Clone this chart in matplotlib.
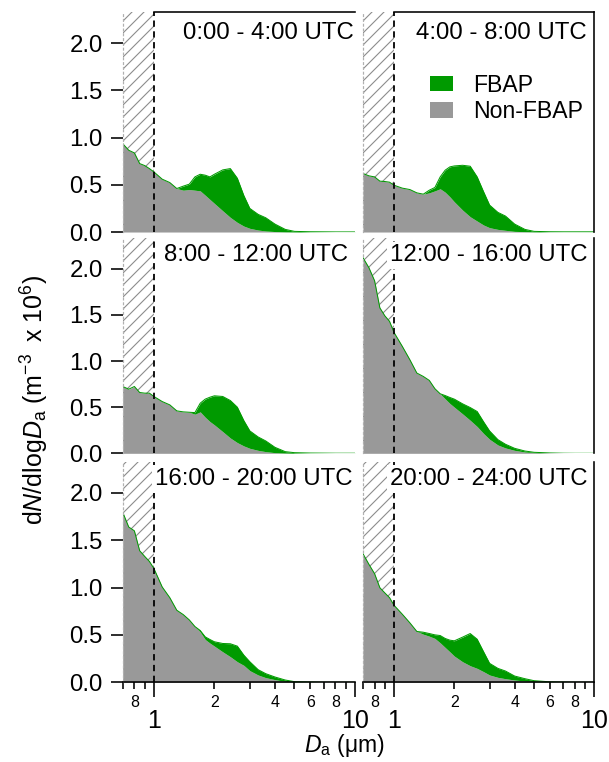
import numpy as np
import matplotlib
matplotlib.use("Agg")
import matplotlib.pyplot as plt
from matplotlib.patches import Patch

plt.rcParams['font.family'] = ['Liberation Sans', 'DejaVu Sans']
plt.rcParams['mathtext.fontset'] = 'custom'
plt.rcParams['mathtext.rm'] = 'Liberation Sans'
plt.rcParams['mathtext.it'] = 'Liberation Sans:italic'
plt.rcParams['hatch.linewidth'] = 0.55

# particle diameter bins (um)
diam = [0.70, 0.75, 0.80, 0.85, 0.90, 0.95, 1.0, 1.1, 1.2, 1.3, 1.4, 1.5, 1.6,
        1.7, 1.8, 1.9, 2.0, 2.2, 2.4, 2.6, 2.8, 3.0, 3.3, 3.6, 4.0, 4.5, 5.0,
        6.0, 7.0, 8.0, 10.0]

periods = ["0:00 - 4:00 UTC", "4:00 - 8:00 UTC", "8:00 - 12:00 UTC",
           "12:00 - 16:00 UTC", "16:00 - 20:00 UTC", "20:00 - 24:00 UTC"]

# dN/dlogDa, 10^6 m^-3
non_fbap = [
    [0.936, 0.866, 0.838, 0.725, 0.704, 0.672, 0.637, 0.560, 0.524, 0.461, 0.443,
     0.450, 0.443, 0.436, 0.390, 0.345, 0.303, 0.225, 0.155, 0.102, 0.063, 0.039,
     0.021, 0.011, 0.005, 0.002, 0.001, 0.0, 0.0, 0.0, 0.0],
    [0.620, 0.595, 0.584, 0.539, 0.535, 0.528, 0.496, 0.465, 0.450, 0.415, 0.401,
     0.415, 0.436, 0.458, 0.422, 0.373, 0.320, 0.232, 0.162, 0.116, 0.074, 0.046,
     0.028, 0.018, 0.007, 0.004, 0.002, 0.001, 0.0, 0.0, 0.0],
    [0.724, 0.695, 0.724, 0.659, 0.652, 0.652, 0.616, 0.561, 0.525, 0.460, 0.449,
     0.445, 0.424, 0.449, 0.391, 0.344, 0.308, 0.235, 0.166, 0.116, 0.080, 0.054,
     0.032, 0.018, 0.007, 0.003, 0.001, 0.0, 0.0, 0.0, 0.0],
    [2.120, 2.010, 1.870, 1.576, 1.490, 1.430, 1.310, 1.159, 1.014, 0.870, 0.833,
     0.790, 0.700, 0.645, 0.590, 0.540, 0.500, 0.427, 0.358, 0.290, 0.214, 0.152,
     0.090, 0.058, 0.032, 0.014, 0.007, 0.003, 0.001, 0.0, 0.0],
    [1.796, 1.640, 1.600, 1.390, 1.330, 1.277, 1.203, 1.007, 0.894, 0.761, 0.715,
     0.659, 0.589, 0.533, 0.452, 0.414, 0.382, 0.322, 0.270, 0.217, 0.179, 0.123,
     0.077, 0.049, 0.028, 0.010, 0.003, 0.001, 0.0, 0.0, 0.0],
    [1.358, 1.245, 1.147, 0.999, 0.944, 0.894, 0.814, 0.719, 0.628, 0.537, 0.508,
     0.487, 0.463, 0.417, 0.368, 0.322, 0.277, 0.217, 0.175, 0.147, 0.112, 0.077,
     0.052, 0.038, 0.024, 0.014, 0.007, 0.003, 0.001, 0.0, 0.0],
]

fbap = [
    [0, 0, 0, 0, 0, 0, 0, 0, 0, 0, 0.043, 0.057, 0.141, 0.176, 0.212, 0.239,
     0.309, 0.433, 0.517, 0.468, 0.324, 0.211, 0.166, 0.140, 0.079, 0.026,
     0.006, 0.003, 0.002, 0.001, 0.001],
    [0, 0, 0, 0, 0, 0, 0, 0, 0, 0, 0, 0.028, 0.036, 0.126, 0.233, 0.317, 0.380,
     0.475, 0.535, 0.468, 0.352, 0.239, 0.180, 0.151, 0.077, 0.024, 0.005,
     0.002, 0.002, 0.002, 0.002],
    [0, 0, 0, 0, 0, 0, 0, 0, 0, 0, 0, 0, 0.017, 0.094, 0.196, 0.264, 0.315,
     0.381, 0.406, 0.384, 0.275, 0.189, 0.145, 0.116, 0.058, 0.015, 0.006,
     0.003, 0.002, 0.001, 0.001],
    [0, 0, 0, 0, 0, 0, 0, 0, 0, 0, 0, 0, 0, 0, 0.036, 0.065, 0.087, 0.109,
     0.138, 0.163, 0.127, 0.090, 0.058, 0.040, 0.022, 0.011, 0.004, 0.001,
     0.0, 0.0, 0.0],
    [0, 0, 0, 0, 0, 0, 0, 0, 0, 0, 0, 0, 0, 0.014, 0.028, 0.038, 0.046, 0.088,
     0.137, 0.165, 0.108, 0.094, 0.056, 0.042, 0.028, 0.014, 0.004, 0.002,
     0.0, 0.0, 0.0],
    [0, 0, 0, 0, 0, 0, 0, 0, 0, 0, 0.021, 0.028, 0.038, 0.077, 0.095, 0.123,
     0.161, 0.260, 0.340, 0.308, 0.210, 0.123, 0.095, 0.081, 0.042, 0.024,
     0.010, 0.002, 0.001, 0.0, 0.0],
]

green = '#009a00'
grey = '#999999'

fig = plt.figure(figsize=(609 / 144, 762 / 144), dpi=144)

# axes boxes [left, bottom, width, height]
col_x = [(0.2015, 0.3814), (0.596, 0.380)]
row_y = [(0.6955, 0.2887), (0.4051, 0.2822), (0.1046, 0.2895)]
label_x = [0.995, 0.968, 0.972, 0.97, 0.99, 0.97]
label_y = [0.905, 0.92, 0.92]

minor_ticks = [0.7, 0.8, 0.9, 2, 3, 4, 5, 6, 7, 8, 9]
minor_labels = ['', '8', '', '2', '', '4', '', '6', '', '8', '']

d = np.array(diam)
for i in range(6):
    row, col = divmod(i, 2)
    ax = fig.add_axes([col_x[col][0], row_y[row][0], col_x[col][1], row_y[row][1]])
    nf = np.array(non_fbap[i])
    fb = np.array(fbap[i])

    # sub-micron range, below the counting cut-off
    ax.axvspan(0.7, 1.0, facecolor='white', edgecolor='#8c8c8c', hatch='////',
               lw=0, zorder=0.5)
    ax.fill_between(d, 0, nf, color=grey, lw=0, zorder=1)
    ax.fill_between(d, nf, nf + fb, color=green, lw=0, zorder=1.1)
    ax.plot(d, nf + fb, color=green, lw=0.5, zorder=1.2)
    ax.axvline(1.0, color='k', ls=(0, (3.5, 2.5)), lw=0.9, zorder=3)

    ax.set_xscale('log')
    ax.set_xlim(0.7, 10)
    ax.set_ylim(0, 2.33)

    for s in ['top', 'right', 'bottom']:
        ax.spines[s].set_visible(False)
    ax.spines['left'].set_color('#b0b0b0')
    ax.spines['left'].set_linestyle((0, (1.5, 2.5)))
    ax.spines['left'].set_linewidth(0.6)
    if row == 0:
        ax.spines['top'].set_visible(True)
        ax.spines['top'].set_bounds(1.0, 10)
        ax.spines['top'].set_linewidth(0.8)
    if col == 1:
        ax.spines['right'].set_visible(True)
        ax.spines['right'].set_linewidth(0.8)

    if col == 0:
        ax.set_yticks([0, 0.5, 1.0, 1.5, 2.0], ['0.0', '0.5', '1.0', '1.5', '2.0'])
        ax.tick_params(axis='y', length=6, width=0.8, pad=4, labelsize=12)
    else:
        ax.set_yticks([])

    if row == 2:
        ax.spines['bottom'].set_visible(True)
        ax.spines['bottom'].set_linewidth(0.8)
        ax.set_xticks([1, 10], ['1', '10'])
        ax.set_xticks(minor_ticks, minor_labels, minor=True)
        ax.tick_params(axis='x', which='major', length=7.5, width=0.8, pad=6,
                       labelsize=12.5)
        ax.tick_params(axis='x', which='minor', length=3.5, width=0.8, pad=3,
                       labelsize=8)
    else:
        ax.tick_params(axis='x', which='both', bottom=False, labelbottom=False)

    ax.text(label_x[i], label_y[row], periods[i], transform=ax.transAxes,
            ha='right', va='center', fontsize=12, zorder=5,
            bbox=dict(facecolor='white', edgecolor='none', pad=1.5))

    if i == 1:
        handles = [Patch(facecolor=green, edgecolor='none', label='FBAP'),
                   Patch(facecolor=grey, edgecolor='none', label='Non-FBAP')]
        ax.legend(handles=handles, loc='upper left', bbox_to_anchor=(0.29, 0.72),
                  frameon=False, fontsize=11.5, handlelength=1.0,
                  handleheight=0.65, handletextpad=0.85, labelspacing=0.15,
                  borderpad=0, borderaxespad=0)

fig.text(0.566, 0.013, r'$D_{\mathrm{a}}$ (μm)', ha='center', va='baseline',
         fontsize=11.5)
fig.text(0.058, 0.475,
         r'd$N$/dlog$D_{\mathrm{a}}$ (m$^{-3\ }$ x 10$^{6}$)',
         ha='center', va='center', rotation=90, fontsize=12.5)

fig.savefig('out.png', dpi=144)
